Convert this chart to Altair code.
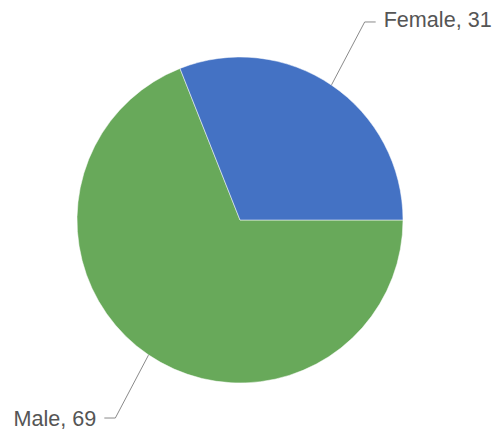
import math
import altair as alt
import pandas as pd

genders = ["Male", "Female"]
counts = [69, 31]
colors = ["#68A95A", "#4472C4"]

df = pd.DataFrame({"gender": genders, "count": counts, "idx": list(range(len(genders)))})

CX, CY, R = 240, 220, 163
START = math.pi / 2  # first slice starts at 3 o'clock

base = alt.Chart(df)

pie = base.mark_arc(radius=R, stroke="#ffffff", strokeWidth=0.5).encode(
    theta=alt.Theta("count:Q", stack=True,
                    scale=alt.Scale(range=[START, START + 2 * math.pi])),
    color=alt.Color("gender:N", scale=alt.Scale(domain=genders, range=colors), legend=None),
    order=alt.Order("idx:Q"),
    x=alt.value(CX),
    y=alt.value(CY),
)

geo = (
    base.transform_joinaggregate(total="sum(count)")
    .transform_window(cum="sum(count)", sort=[alt.SortField("idx")], frame=[None, 0])
    .transform_calculate(mid=f"{START} + 2*PI*(datum.cum - datum.count/2)/datum.total")
    .transform_calculate(side="sin(datum.mid) >= 0 ? 1 : -1")
    .transform_calculate(elb="datum.mid - 0.035")
    .transform_calculate(x0=f"{CX} + {R - 2}*sin(datum.mid)")
    .transform_calculate(y0=f"{CY} - {R - 2}*cos(datum.mid)")
    .transform_calculate(x1=f"{CX} + 234*sin(datum.elb)")
    .transform_calculate(y1=f"{CY} - 234*cos(datum.elb)")
    .transform_calculate(x2="datum.x1 + 11*datum.side")
    .transform_calculate(xt="datum.x2 + 8*datum.side")
    .transform_calculate(yt="datum.y1 + (datum.side > 0 ? -1 : 2)")
    .transform_calculate(label="datum.gender + ', ' + datum.count")
)

line_color = "#8a8a8a"
leader1 = geo.mark_rule(color=line_color, strokeWidth=1).encode(
    x=alt.X("x0:Q", scale=None, axis=None),
    y=alt.Y("y0:Q", scale=None, axis=None),
    x2="x1:Q",
    y2="y1:Q",
)
leader2 = geo.mark_rule(color=line_color, strokeWidth=1).encode(
    x=alt.X("x1:Q", scale=None, axis=None),
    y=alt.Y("y1:Q", scale=None, axis=None),
    x2="x2:Q",
    y2="y1:Q",
)

text_style = dict(baseline="middle", fontSize=21.6, font="Liberation Sans", color="#555555")
lbl_right = geo.transform_filter("datum.side > 0").mark_text(align="left", **text_style).encode(
    x=alt.X("xt:Q", scale=None, axis=None),
    y=alt.Y("yt:Q", scale=None, axis=None),
    text="label:N",
)
lbl_left = geo.transform_filter("datum.side < 0").mark_text(align="right", **text_style).encode(
    x=alt.X("xt:Q", scale=None, axis=None),
    y=alt.Y("yt:Q", scale=None, axis=None),
    text="label:N",
)

chart = (
    alt.layer(leader1, leader2, pie, lbl_right, lbl_left)
    .properties(width=496, height=433, autosize=alt.AutoSizeParams(type="none"), padding=0)
    .configure_view(stroke=None)
)

chart.save("out.html", embed_options={"renderer": "svg", "actions": False})
